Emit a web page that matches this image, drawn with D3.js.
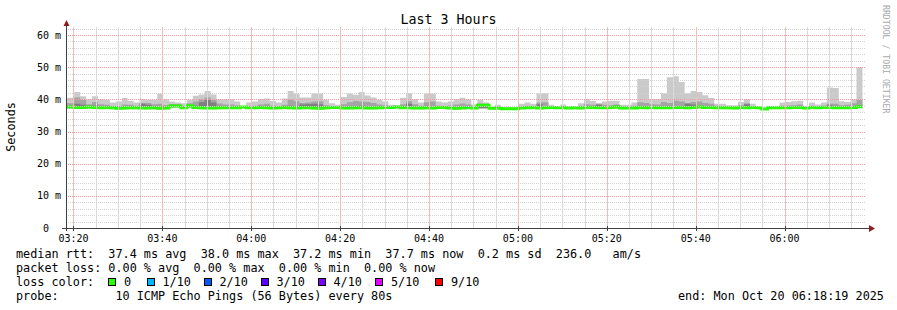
<!DOCTYPE html>
<html><head><meta charset="utf-8">
<script src="https://cdn.jsdelivr.net/npm/d3@7"></script>
<style>
html,body{margin:0;padding:0;background:#fff;}
svg{display:block;}
text{font-family:"DejaVu Sans Mono",monospace;white-space:pre;}
</style></head><body>
<svg id="chart" width="897" height="310"></svg>
<script>
// ---- data (ms) : one value per 80 s step ----
const rttMax = [40.5,
 40.5,42.3,41.0,40.0,41.0,40.0,39.8,39.0,39.3,40.4,
 39.6,39.0,40.1,39.8,39.8,41.8,40.0,39.3,39.0,38.8,
 39.8,41.1,41.5,42.6,41.5,40.0,40.0,40.0,39.3,37.9,
 39.0,39.3,40.1,40.3,39.5,39.0,40.3,42.6,41.8,40.6,
 40.6,41.8,41.8,39.8,38.8,38.3,40.7,41.8,41.4,42.3,
 41.2,40.6,39.8,39.3,38.3,38.2,40.5,41.9,40.0,39.0,
 41.8,41.8,39.3,39.0,39.3,40.0,40.5,40.0,38.4,39.8,
 39.0,37.7,38.3,37.4,37.4,37.4,38.6,39.0,38.6,41.8,
 41.9,38.3,37.7,38.4,37.9,37.7,38.8,40.1,39.5,38.8,
 39.3,39.6,39.6,38.3,38.3,39.0,46.3,46.3,40.1,40.1,
 41.9,46.9,47.2,45.4,41.9,42.6,42.3,41.3,40.4,38.6,
 38.6,38.2,38.2,39.2,40.1,38.6,37.4,37.1,37.9,37.9,
 39.0,39.2,39.4,39.6,37.7,39.0,38.4,39.0,43.7,43.5,
 39.4,39.2,40.0,50.0];
const rttP9 = [38.9,
 38.8,40.6,39.8,38.5,39.2,38.5,38.3,37.9,37.9,38.4,
 38.3,38.0,38.9,38.9,38.5,38.6,38.2,38.5,38.5,37.9,
 38.8,39.3,40.0,40.6,39.8,38.7,38.4,38.4,38.1,37.8,
 37.9,38.0,38.4,38.6,38.1,37.9,38.3,39.9,39.4,38.9,
 39.0,39.3,39.4,38.2,37.9,37.8,38.5,39.1,39.5,39.3,
 39.2,38.9,38.4,38.2,37.8,37.8,38.5,39.4,38.5,38.0,
 39.1,39.3,38.0,37.9,38.1,38.4,38.7,38.4,37.8,38.7,
 38.6,37.6,37.8,37.3,37.3,37.3,37.8,38.0,37.8,39.0,
 39.1,37.8,37.6,37.9,37.6,37.6,38.0,38.5,38.3,38.6,
 38.3,38.2,38.4,37.8,37.8,38.0,39.1,38.9,38.5,38.4,
 39.2,38.9,39.6,39.3,38.9,39.2,39.3,38.9,38.6,38.0,
 37.9,37.8,37.7,38.2,38.8,37.8,37.3,37.1,37.7,37.7,
 38.0,38.1,38.2,38.4,37.6,38.0,37.9,38.1,38.6,38.6,
 38.2,38.3,38.8,39.8];
const rttP8 = [37.9,
 37.9,38.6,38.3,37.8,38.1,37.8,37.7,37.6,37.5,37.6,
 37.7,37.7,38.6,38.3,37.8,37.5,37.6,38.3,38.3,37.7,
 38.3,38.0,39.1,39.8,39.0,37.8,37.7,37.7,37.7,37.7,
 37.7,37.7,37.8,37.8,37.6,37.7,37.8,38.0,37.7,38.4,
 38.5,38.6,38.5,37.7,37.7,37.6,37.6,37.7,37.8,38.0,
 37.7,37.6,37.7,37.8,37.7,37.7,37.7,38.6,37.7,37.6,
 37.7,37.6,37.8,37.7,37.6,37.5,37.6,37.7,37.6,38.5,
 38.5,37.5,37.5,37.2,37.2,37.2,37.6,37.7,37.6,38.5,
 37.8,37.7,37.5,37.7,37.5,37.5,37.6,37.8,37.8,38.3,
 37.7,37.8,38.1,37.6,37.6,37.7,37.8,37.7,37.8,37.7,
 37.7,37.7,37.8,37.8,38.6,38.4,37.9,37.8,37.8,37.7,
 37.7,37.7,37.6,37.8,38.5,37.7,37.2,37.0,37.6,37.6,
 37.7,37.7,37.8,37.8,37.5,37.8,37.7,37.8,38.2,37.8,
 37.7,37.7,37.9,38.2];
const rttMedian = [37.6,
 37.6,37.5,37.5,37.6,37.5,37.4,37.5,37.4,37.2,37.3,
 37.4,37.4,37.3,37.3,37.4,37.2,37.3,37.9,37.9,37.4,
 38.0,37.5,37.4,37.3,37.3,37.4,37.4,37.4,37.4,37.6,
 37.4,37.4,37.5,37.4,37.3,37.4,37.5,37.4,37.3,37.4,
 37.4,37.3,37.2,37.4,37.5,37.5,37.3,37.3,37.4,37.4,
 37.3,37.3,37.4,37.5,37.5,37.6,37.4,37.4,37.3,37.3,
 37.4,37.3,37.5,37.5,37.3,37.2,37.3,37.4,37.3,38.2,
 38.2,37.2,37.2,37.1,37.1,37.1,37.3,37.4,37.5,37.3,
 37.4,37.5,37.4,37.4,37.3,37.4,37.3,37.5,37.5,37.4,
 37.4,37.5,37.6,37.3,37.3,37.3,37.5,37.4,37.5,37.4,
 37.4,37.4,37.5,37.5,37.4,37.5,37.6,37.5,37.5,37.4,
 37.4,37.4,37.3,37.5,37.4,37.5,37.4,37.0,37.4,37.4,
 37.4,37.4,37.5,37.5,37.3,37.5,37.4,37.5,37.5,37.4,
 37.4,37.4,37.5,37.7];
const rttP3 = [37.4,
 37.4,37.3,37.4,37.4,37.3,37.3,37.3,37.2,37.1,37.2,
 37.3,37.2,37.2,37.2,37.3,37.1,37.2,37.7,37.7,37.3,
 37.7,37.4,37.3,37.2,37.2,37.3,37.3,37.3,37.3,37.5,
 37.3,37.3,37.4,37.3,37.2,37.3,37.4,37.3,37.2,37.3,
 37.3,37.2,37.1,37.3,37.4,37.4,37.2,37.2,37.3,37.3,
 37.2,37.2,37.3,37.4,37.4,37.5,37.3,37.3,37.2,37.2,
 37.3,37.2,37.4,37.4,37.2,37.1,37.2,37.3,37.2,37.3,
 37.3,37.1,37.1,37.0,37.0,37.0,37.2,37.3,37.4,37.2,
 37.3,37.4,37.3,37.3,37.2,37.3,37.2,37.4,37.4,37.3,
 37.3,37.4,37.5,37.2,37.2,37.2,37.4,37.3,37.4,37.3,
 37.3,37.3,37.4,37.4,37.3,37.4,37.5,37.4,37.4,37.3,
 37.3,37.3,37.2,37.4,37.3,37.4,37.3,36.9,37.3,37.3,
 37.3,37.3,37.4,37.4,37.2,37.4,37.3,37.4,37.4,37.3,
 37.3,37.3,37.4,37.6];
const rttP2 = [37.3,
 37.3,37.2,37.3,37.3,37.2,37.1,37.2,37.1,37.0,37.1,
 37.1,37.1,37.0,37.1,37.2,37.0,37.0,37.5,37.6,37.1,
 37.5,37.2,37.1,37.1,37.1,37.2,37.1,37.2,37.1,37.4,
 37.2,37.1,37.2,37.2,37.1,37.2,37.3,37.1,37.1,37.2,
 37.1,37.1,37.0,37.2,37.3,37.2,37.1,37.0,37.2,37.1,
 37.1,37.0,37.2,37.3,37.2,37.4,37.1,37.2,37.1,37.0,
 37.2,37.1,37.3,37.2,37.1,37.0,37.1,37.2,37.1,37.2,
 37.2,37.0,37.0,36.9,36.9,36.9,37.1,37.2,37.2,37.1,
 37.2,37.3,37.2,37.1,37.1,37.2,37.1,37.3,37.2,37.2,
 37.2,37.3,37.4,37.1,37.0,37.1,37.3,37.2,37.3,37.1,
 37.2,37.1,37.3,37.2,37.2,37.3,37.4,37.3,37.2,37.2,
 37.2,37.1,37.1,37.3,37.2,37.2,37.2,36.8,37.1,37.2,
 37.1,37.2,37.3,37.2,37.1,37.3,37.2,37.2,37.3,37.1,
 37.2,37.2,37.2,37.5];
const rttMin = [37.1,
 37.1,37.0,37.1,37.2,37.0,37.0,37.1,36.9,36.8,36.9,
 37.0,36.9,36.9,36.9,37.0,36.8,36.9,37.3,37.4,37.0,
 37.2,37.1,37.0,36.9,36.9,37.0,37.0,37.0,37.0,37.3,
 37.0,37.0,37.1,37.0,36.9,37.0,37.1,37.0,36.9,37.0,
 37.0,36.9,36.8,37.0,37.1,37.1,36.9,36.9,37.0,37.0,
 36.9,36.9,37.0,37.1,37.1,37.2,37.0,37.0,36.9,36.9,
 37.0,36.9,37.1,37.1,36.9,36.8,36.9,37.0,36.9,37.0,
 37.0,36.8,36.9,36.8,36.8,36.8,36.9,37.0,37.1,36.9,
 37.0,37.1,37.0,37.0,36.9,37.0,36.9,37.1,37.1,37.0,
 37.0,37.1,37.2,36.9,36.9,36.9,37.1,37.0,37.1,37.0,
 37.0,37.0,37.1,37.1,37.0,37.1,37.2,37.1,37.1,37.0,
 37.0,37.0,36.9,37.1,37.0,37.1,37.0,36.7,37.0,37.0,
 37.0,37.0,37.1,37.1,36.9,37.1,37.0,37.1,37.1,37.0,
 37.0,37.0,37.1,37.3];

const stepSeconds = 80;
const firstBarStart = new Date(2025, 9, 20, 3, 17, 31);
const rangeStart = new Date(2025, 9, 20, 3, 18, 19);
const rangeEnd = new Date(2025, 9, 20, 6, 18, 19);

const yMaxDomain = 62.5;
const yMajorTicks = [0, 10, 20, 30, 40, 50, 60];
const yTickLabels = ["0  ", "10 m", "20 m", "30 m", "40 m", "50 m", "60 m"];

const titleText = "Last 3 Hours";
const yAxisTitle = "Seconds";
const legendLine1 = "median rtt:  37.4 ms avg  38.0 ms max  37.2 ms min  37.7 ms now  0.2 ms sd  236.0   am/s";
const legendLine2 = "packet loss: 0.00 % avg  0.00 % max  0.00 % min  0.00 % now";
const lossTitle = "loss color:";
const lossLabels = ["0", "1/10", "2/10", "3/10", "4/10", "5/10", "9/10"];
const lossColors = ["#26ff00", "#00b8ff", "#0059ff", "#5e00ff", "#7e00ff", "#dd00ff", "#ff0000"];
const probeText = "probe:        10 ICMP Echo Pings (56 Bytes) every 80s";
const endText = "end: Mon Oct 20 06:18:19 2025";
const watermark = "RRDTOOL / TOBI OETIKER";

// ---- layout ----
const svg = d3.select("#chart");
const plot = {left: 66, right: 866, top: 27, bottom: 228};

const x = d3.scaleTime().domain([rangeStart, rangeEnd]).range([plot.left, plot.right]);
const y = d3.scaleLinear().domain([0, yMaxDomain]).range([plot.bottom, plot.top]);

svg.append("rect").attr("width", 897).attr("height", 310).attr("fill", "#fff");

svg.append("defs").append("clipPath").attr("id", "pc")
  .append("rect").attr("x", plot.left).attr("y", plot.top)
  .attr("width", plot.right - plot.left).attr("height", plot.bottom - plot.top);

const bars = rttMax.map((m, i) => {
  const t0 = new Date(firstBarStart.getTime() + i * stepSeconds * 1000);
  const t1 = new Date(t0.getTime() + stepSeconds * 1000);
  return {t0, t1, i};
});

function expand(lo, hi) {
  const pts = [];
  bars.forEach(b => {
    pts.push({t: b.t0, lo: lo[b.i], hi: hi[b.i]});
    pts.push({t: b.t1, lo: lo[b.i], hi: hi[b.i]});
  });
  return pts;
}

const area = d3.area().x(d => x(d.t)).y0(d => y(d.lo)).y1(d => y(d.hi));
const layers = [
  {lo: rttMin, hi: rttMax, color: "#cacaca"},
  {lo: rttP2, hi: rttP9, color: "#a4a4a4"},
  {lo: rttP3, hi: rttP8, color: "#7e7e7e"}
];
const gData = svg.append("g").attr("clip-path", "url(#pc)");
layers.forEach(L => {
  gData.append("path").attr("d", area(expand(L.lo, L.hi))).attr("fill", L.color);
});

const medPts = expand(rttMedian, rttMedian);
const line = d3.line().x(d => x(d.t)).y(d => y(d.hi));
gData.append("path").attr("d", line(medPts)).attr("fill", "none")
  .attr("stroke", lossColors[0]).attr("stroke-width", 3);

// ---- grid (on top) ----
const gGrid = svg.append("g");
const minorV = d3.timeMinute.every(5).range(rangeStart, rangeEnd).filter(d => d.getMinutes() % 20 !== 0);
const majorV = d3.timeMinute.every(20).range(rangeStart, rangeEnd);
const minorH = d3.range(2, yMaxDomain, 2).filter(v => v % 10 !== 0);
const majorH = yMajorTicks.filter(v => v > 0);

function vPath(list) {
  return list.map(d => { const px = Math.round(x(d)) + 0.5; return `M${px},${plot.top}V${plot.bottom}`; }).join("");
}
function hPath(list) {
  return list.map(v => { const py = Math.round(y(v)) + 0.5; return `M${plot.left},${py}H${plot.right}`; }).join("");
}
gGrid.append("path").attr("d", hPath(minorH)).attr("stroke", "#d2d2d2").attr("stroke-dasharray", "1,1").attr("fill", "none");
gGrid.append("path").attr("d", vPath(minorV)).attr("stroke", "#dadada").attr("fill", "none");
gGrid.append("path").attr("d", hPath(majorH)).attr("stroke", "#ee9a9a").attr("stroke-dasharray", "1,1").attr("fill", "none");
gGrid.append("path").attr("d", vPath(majorV)).attr("stroke", "#f3bcbc").attr("fill", "none");

// ---- axes ----
const axisColor = "#404040", arrowColor = "#8f1d1d";
const gAx = svg.append("g");
gAx.append("line").attr("x1", 66.5).attr("x2", 66.5).attr("y1", 231).attr("y2", 22)
  .attr("stroke", axisColor).attr("shape-rendering", "crispEdges");
gAx.append("line").attr("x1", 62).attr("x2", 869).attr("y1", 228.5).attr("y2", 228.5)
  .attr("stroke", axisColor).attr("shape-rendering", "crispEdges");
gAx.append("path").attr("d", "M63.5,26L69.5,26L66.5,20Z").attr("fill", arrowColor);
gAx.append("path").attr("d", "M869,225L869,232L875,228.5Z").attr("fill", arrowColor);
gAx.selectAll(".xt").data(majorV).join("line")
  .attr("x1", d => Math.round(x(d)) + 0.5).attr("x2", d => Math.round(x(d)) + 0.5)
  .attr("y1", 226).attr("y2", 231).attr("stroke", axisColor).attr("shape-rendering", "crispEdges");

const fmt = d3.timeFormat("%H:%M");
svg.selectAll(".xl").data(majorV).join("text")
  .attr("x", d => x(d)).attr("y", 241.5).attr("text-anchor", "middle")
  .attr("font-size", "10px").attr("fill", "#000").text(d => fmt(d));
svg.selectAll(".yl").data(yMajorTicks).join("text")
  .attr("x", 61).attr("y", d => y(d) + 3.5).attr("text-anchor", "end")
  .attr("font-size", "10px").attr("fill", "#000").text((d, i) => yTickLabels[i]);

// ---- titles ----
svg.append("text").attr("x", 448.5).attr("y", 24).attr("text-anchor", "middle")
  .attr("font-size", "13.3px").attr("fill", "#000").text(titleText);
svg.append("text").attr("transform", "translate(15,127) rotate(-90)").attr("text-anchor", "middle")
  .attr("font-size", "11.8px").attr("fill", "#000").text(yAxisTitle);
svg.append("text").attr("transform", "translate(883,5) rotate(90)").attr("text-anchor", "start")
  .attr("font-size", "8.2px").attr("fill", "#aaaaaa").text(watermark);

// ---- legend ----
const lf = "11.8px";
svg.append("text").attr("x", 16).attr("y", 258).attr("font-size", lf).text(legendLine1);
svg.append("text").attr("x", 16).attr("y", 272.3).attr("font-size", lf).text(legendLine2);
svg.append("text").attr("x", 16).attr("y", 286.3).attr("font-size", lf).text(lossTitle);
svg.append("text").attr("x", 16).attr("y", 300.3).attr("font-size", lf).text(probeText);
svg.append("text").attr("x", 678).attr("y", 300.3).attr("font-size", lf).text(endText);

const boxX = [108, 146.5, 203.5, 260.5, 317.5, 375, 435];
const gL = svg.append("g");
lossLabels.forEach((lab, i) => {
  gL.append("rect").attr("x", boxX[i] + 0.5).attr("y", 278.5).attr("width", 7).attr("height", 7)
    .attr("fill", lossColors[i]).attr("stroke", "#000").attr("stroke-width", 1)
    .attr("shape-rendering", "crispEdges");
  gL.append("text").attr("x", boxX[i] + 16).attr("y", 286.3).attr("font-size", lf).text(lab);
});
</script>
</body></html>
